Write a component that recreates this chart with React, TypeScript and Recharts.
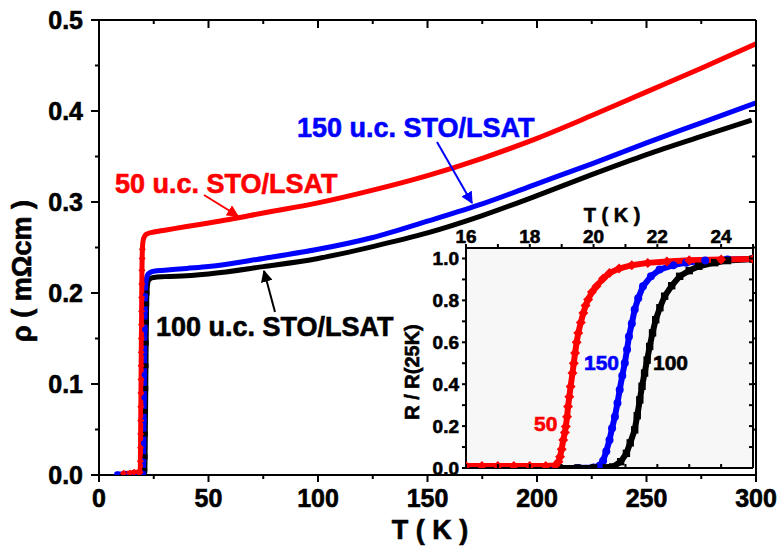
import React from "react";
import { LineChart, Line, XAxis, YAxis, CartesianGrid } from "recharts";

const FONT = '"Liberation Sans", Arial, sans-serif';
const RED = "#ff0000";
const BLUE = "#0000ff";
const BLACK = "#000000";

// main panel: rho (mOhm cm) vs T (K)
const MAIN_X_TICKS = [0, 25, 50, 75, 100, 125, 150, 175, 200, 225, 250, 275, 300];
const MAIN_Y_TICKS = [0, 0.05, 0.1, 0.15, 0.2, 0.25, 0.3, 0.35, 0.4, 0.45, 0.5];

const RHO_50: [number, number][] = [
  [11.2, 0.002], [14, 0.002], [16, 0.003], [18, 0.003], [18.8, 0.003],
  [18.9, 0.015], [18.95, 0.03], [19.0, 0.045], [19.05, 0.06], [19.1, 0.075],
  [19.15, 0.09], [19.2, 0.105], [19.25, 0.12], [19.3, 0.135], [19.35, 0.15],
  [19.4, 0.165], [19.45, 0.18], [19.5, 0.195], [19.55, 0.21], [19.62, 0.225],
  [19.7, 0.238], [19.8, 0.248], [20.0, 0.255], [20.4, 0.26], [21, 0.263],
  [22, 0.265], [25, 0.267], [30, 0.269], [40, 0.273], [50, 0.277], [60, 0.281],
  [75, 0.288], [100, 0.299], [125, 0.313], [150, 0.329], [175, 0.348],
  [200, 0.37], [225, 0.395], [250, 0.421], [275, 0.447], [300, 0.474],
];

const RHO_150: [number, number][] = [
  [8.2, 0.001], [12, 0.001], [16, 0.001], [19, 0.001], [20.2, 0.002],
  [20.35, 0.015], [20.45, 0.035], [20.55, 0.06], [20.65, 0.085], [20.75, 0.11],
  [20.85, 0.135], [20.95, 0.16], [21.05, 0.18], [21.15, 0.197], [21.3, 0.208],
  [21.6, 0.215], [22.2, 0.22], [23, 0.222], [25, 0.224], [30, 0.225],
  [40, 0.227], [50, 0.229], [75, 0.238], [100, 0.248], [125, 0.261],
  [150, 0.279], [175, 0.298], [200, 0.32], [225, 0.342], [250, 0.365],
  [275, 0.387], [300, 0.409],
];

const RHO_100: [number, number][] = [
  [20.6, 0.001], [20.9, 0.005], [21.05, 0.02], [21.15, 0.045], [21.25, 0.07],
  [21.35, 0.095], [21.45, 0.12], [21.55, 0.145], [21.65, 0.168], [21.75, 0.188],
  [21.9, 0.2], [22.1, 0.208], [22.5, 0.213], [23.5, 0.216], [25, 0.217],
  [30, 0.218], [40, 0.219], [50, 0.221], [75, 0.229], [100, 0.238],
  [125, 0.251], [150, 0.266], [175, 0.285], [200, 0.307], [225, 0.33],
  [250, 0.352], [275, 0.372], [298, 0.39],
];

// inset: R / R(25K) around Tc
const INSET_X_TICKS = [16, 17, 18, 19, 20, 21, 22, 23, 24, 25];
const INSET_Y_TICKS = [0, 0.1, 0.2, 0.3, 0.4, 0.5, 0.6, 0.7, 0.8, 0.9, 1.0];

const NORM_50: [number, number][] = [
  [16, 0.01], [16.5, 0.01], [17, 0.01], [17.5, 0.01], [18, 0.01], [18.5, 0.01],
  [18.8, 0.012], [18.9, 0.03], [18.95, 0.054], [19.0, 0.09], [19.05, 0.134],
  [19.1, 0.17], [19.13, 0.198], [19.17, 0.245], [19.2, 0.293], [19.24, 0.34],
  [19.28, 0.389], [19.34, 0.453], [19.38, 0.5], [19.42, 0.549], [19.47, 0.6],
  [19.52, 0.644], [19.6, 0.695], [19.68, 0.74], [19.75, 0.775], [19.83, 0.804],
  [19.95, 0.84], [20.09, 0.867], [20.3, 0.905], [20.5, 0.931], [20.8, 0.952],
  [21.2, 0.968], [21.7, 0.979], [22.3, 0.986], [23, 0.991], [24, 0.995], [25, 0.998],
];

const NORM_150: [number, number][] = [
  [18.8, 0], [19.5, 0], [20.0, 0.002], [20.2, 0.012], [20.3, 0.035], [20.4, 0.08],
  [20.5, 0.134], [20.58, 0.19], [20.67, 0.245], [20.75, 0.31], [20.82, 0.373],
  [20.9, 0.44], [20.98, 0.501], [21.05, 0.565], [21.11, 0.628], [21.2, 0.69],
  [21.29, 0.756], [21.4, 0.81], [21.55, 0.867], [21.8, 0.915], [22.07, 0.947],
  [22.5, 0.968], [22.9, 0.98], [23.5, 0.99], [24.2, 0.995], [25, 0.998],
];

const NORM_100: [number, number][] = [
  [18.85, 0], [19.5, 0], [20, 0], [20.4, 0.001], [20.6, 0.005], [20.85, 0.03],
  [21.03, 0.07], [21.15, 0.12], [21.29, 0.182], [21.37, 0.25], [21.45, 0.325],
  [21.52, 0.39], [21.6, 0.453], [21.68, 0.515], [21.76, 0.58], [21.85, 0.645],
  [21.95, 0.708], [22.08, 0.765], [22.23, 0.82], [22.45, 0.87], [22.7, 0.915],
  [23.0, 0.942], [23.3, 0.963], [23.8, 0.98], [24.2, 0.99], [25, 0.997],
];

const rows = (pts: [number, number][]) => pts.map(([T, v]) => ({ T, v }));

// bold text, thickened a little with a thin stroke of its own colour
const txt = (fill: string, size: number) => ({
  fontFamily: FONT,
  fontWeight: 700,
  fontSize: size,
  fill,
  stroke: fill,
  strokeWidth: 0.6,
});

type Side = "bottom" | "top" | "left" | "right";
type TickOpts = {
  isMajor: (v: number) => boolean;
  label?: (v: number) => string;
  majorLen: number;
  minorLen: number;
  inward?: boolean;
  fontSize?: number;
  gap?: number;
};

function axisTick(side: Side, o: TickOpts) {
  return (props: any) => {
    const { x, y, payload } = props;
    const v = payload.value as number;
    const major = o.isMajor(v);
    const len = (major ? o.majorLen : o.minorLen) * (o.inward ? -1 : 1);
    let dx = 0;
    let dy = 0;
    if (side === "bottom") dy = len;
    else if (side === "top") dy = -len;
    else if (side === "left") dx = -len;
    else dx = len;
    const fs = o.fontSize ?? 25;
    const gap = o.gap ?? 0;
    let text = null;
    if (major && o.label) {
      const common = txt("#000", fs);
      if (side === "bottom")
        text = <text x={x} y={y + gap} textAnchor="middle" {...common}>{o.label(v)}</text>;
      else if (side === "top")
        text = <text x={x} y={y - gap} textAnchor="middle" {...common}>{o.label(v)}</text>;
      else if (side === "left")
        text = <text x={x - gap} y={y + fs * 0.36} textAnchor="end" {...common}>{o.label(v)}</text>;
    }
    return (
      <g>
        <line x1={x} y1={y} x2={x + dx} y2={y + dy} stroke="#000" strokeWidth={2} />
        {text}
      </g>
    );
  };
}

const near = (v: number, step: number) => Math.abs(v / step - Math.round(v / step)) < 1e-6;
const axisLine = { stroke: "#000", strokeWidth: 2 };
const bare = { tickSize: 0, tickMargin: 0, tickLine: false, interval: 0 as const, allowDataOverflow: true };

function Diamond({ cx, cy, r, fill }: any) {
  return <polygon points={`${cx},${cy - r} ${cx + r},${cy} ${cx},${cy + r} ${cx - r},${cy}`} fill={fill} />;
}
function Square({ cx, cy, r, fill }: any) {
  return <rect x={cx - r} y={cy - r} width={2 * r} height={2 * r} fill={fill} />;
}
function Dot({ cx, cy, r, fill }: any) {
  return <circle cx={cx} cy={cy} r={r} fill={fill} />;
}

function marker(Shape: any, fill: string, r: number, maxT: number) {
  return (p: any) =>
    p.payload.T <= maxT && p.cx != null ? (
      <Shape key={p.index} cx={p.cx} cy={p.cy} r={r} fill={fill} />
    ) : (
      <g key={p.index} />
    );
}

// axes get 1px of room (a 0-sized axis is not drawn); margins make up the rest
function MainChart() {
  return (
    <LineChart width={779} height={552} margin={{ top: 19, right: 22, bottom: 76, left: 98 }}>
      <XAxis
        xAxisId="b" type="number" dataKey="T" domain={[0, 300]} ticks={MAIN_X_TICKS} height={1}
        axisLine={axisLine} {...bare}
        tick={axisTick("bottom", { isMajor: (v) => near(v, 50), label: (v) => String(v), majorLen: 7, minorLen: 4, fontSize: 25, gap: 32 })}
      />
      <XAxis
        xAxisId="t" orientation="top" type="number" dataKey="T" domain={[0, 300]} ticks={MAIN_X_TICKS} height={1}
        axisLine={axisLine} {...bare}
        tick={axisTick("top", { isMajor: (v) => near(v, 50), majorLen: 8, minorLen: 4, inward: true })}
      />
      <YAxis
        yAxisId="l" type="number" domain={[0, 0.5]} ticks={MAIN_Y_TICKS} width={1}
        axisLine={axisLine} {...bare}
        tick={axisTick("left", { isMajor: (v) => near(v, 0.1), label: (v) => v.toFixed(1), majorLen: 8, minorLen: 4, fontSize: 25, gap: 16 })}
      />
      <YAxis
        yAxisId="r" orientation="right" type="number" domain={[0, 0.5]} ticks={MAIN_Y_TICKS} width={1}
        axisLine={axisLine} {...bare}
        tick={axisTick("right", { isMajor: (v) => near(v, 0.1), majorLen: 7, minorLen: 4, inward: true })}
      />
      <Line xAxisId="b" yAxisId="l" data={rows(RHO_100)} dataKey="v" type="monotone" stroke={BLACK} strokeWidth={5}
        dot={marker(Square, BLACK, 2.5, 21.9)} isAnimationActive={false} />
      <Line xAxisId="b" yAxisId="l" data={rows(RHO_150)} dataKey="v" type="monotone" stroke={BLUE} strokeWidth={5}
        dot={marker(Dot, BLUE, 2.8, 21.2)} isAnimationActive={false} />
      <Line xAxisId="b" yAxisId="l" data={rows(RHO_50)} dataKey="v" type="monotone" stroke={RED} strokeWidth={5}
        dot={marker(Diamond, RED, 3.5, 19.8)} isAnimationActive={false} />
    </LineChart>
  );
}

function InsetChart() {
  return (
    <LineChart width={370} height={290} margin={{ top: 57, right: 16, bottom: 11, left: 65 }}>
      <CartesianGrid xAxisId="t" yAxisId="l" horizontal={false} vertical={false} fill="#f7f7f7" />
      <XAxis
        xAxisId="t" orientation="top" type="number" dataKey="T" domain={[16, 25]} ticks={INSET_X_TICKS} height={1}
        axisLine={axisLine} {...bare}
        tick={axisTick("top", { isMajor: (v) => near(v, 2), label: (v) => String(v), majorLen: 4, minorLen: 4, fontSize: 19, gap: 5 })}
      />
      <XAxis
        xAxisId="b" type="number" dataKey="T" domain={[16, 25]} ticks={INSET_X_TICKS} height={1}
        axisLine={axisLine} {...bare}
        tick={axisTick("bottom", { isMajor: () => true, majorLen: 4, minorLen: 4, inward: true })}
      />
      <YAxis
        yAxisId="l" type="number" domain={[0, 1.05]} ticks={INSET_Y_TICKS} width={1}
        axisLine={axisLine} {...bare}
        tick={axisTick("left", { isMajor: (v) => near(v, 0.2), label: (v) => v.toFixed(1), majorLen: 4, minorLen: 4, fontSize: 19, gap: 7 })}
      />
      <YAxis
        yAxisId="r" orientation="right" type="number" domain={[0, 1.05]} ticks={INSET_Y_TICKS} width={1}
        axisLine={axisLine} {...bare}
        tick={axisTick("right", { isMajor: () => true, majorLen: 4, minorLen: 4, inward: true })}
      />
      <Line xAxisId="t" yAxisId="l" data={rows(NORM_150)} dataKey="v" type="linear" stroke={BLUE} strokeWidth={6}
        dot={marker(Dot, BLUE, 4, 25)} isAnimationActive={false} />
      <Line xAxisId="t" yAxisId="l" data={rows(NORM_100)} dataKey="v" type="linear" stroke={BLACK} strokeWidth={6}
        dot={marker(Square, BLACK, 3.7, 25)} isAnimationActive={false} />
      <Line xAxisId="t" yAxisId="l" data={rows(NORM_50)} dataKey="v" type="linear" stroke={RED} strokeWidth={6}
        dot={marker(Diamond, RED, 5, 25)} isAnimationActive={false} />
    </LineChart>
  );
}

function Annotations() {
  return (
    <svg width={779} height={552} style={{ position: "absolute", left: 0, top: 0, pointerEvents: "none" }}>
      <defs>
        {[["r", RED], ["b", BLUE], ["k", BLACK]].map(([id, c]) => (
          <marker key={id} id={`ah-${id}`} viewBox="0 0 10 10" refX="9" refY="5" markerWidth="6" markerHeight="6" orient="auto">
            <path d="M0,0 L10,5 L0,10 z" fill={c} />
          </marker>
        ))}
      </defs>
      <text x={430} y={539} textAnchor="middle" {...txt(BLACK, 27)}>T ( K )</text>
      <text transform="translate(31,271) rotate(-90)" textAnchor="middle" {...txt(BLACK, 27)}>ρ ( mΩcm )</text>

      <text x={115} y={193} {...txt(RED, 27)}>50 u.c. STO/LSAT</text>
      <line x1={204} y1={195} x2={238} y2={216} stroke={RED} strokeWidth={2} markerEnd="url(#ah-r)" />
      <text x={297} y={137} {...txt(BLUE, 27)}>150 u.c. STO/LSAT</text>
      <line x1={437} y1={142} x2={472} y2={203} stroke={BLUE} strokeWidth={2} markerEnd="url(#ah-b)" />
      <text x={156} y={336} {...txt(BLACK, 27)}>100 u.c. STO/LSAT</text>
      <line x1={275} y1={312} x2={264} y2={271} stroke={BLACK} strokeWidth={2} markerEnd="url(#ah-k)" />

      <text x={612} y={222} textAnchor="middle" {...txt(BLACK, 20)}>T ( K )</text>
      <text transform="translate(419,372) rotate(-90)" textAnchor="middle" {...txt(BLACK, 20)}>R / R(25K)</text>
      <text x={534} y={431} {...txt(RED, 21)}>50</text>
      <text x={584} y={370} {...txt(BLUE, 21)}>150</text>
      <text x={653} y={370} {...txt(BLACK, 21)}>100</text>
    </svg>
  );
}

export default function App() {
  return (
    <div style={{ position: "absolute", left: 0, top: 0, width: 779, height: 552, background: "#fff" }}>
      <div style={{ position: "absolute", left: 0, top: 0 }}>
        <MainChart />
      </div>
      <div style={{ position: "absolute", left: 400, top: 190 }}>
        <InsetChart />
      </div>
      <Annotations />
    </div>
  );
}
